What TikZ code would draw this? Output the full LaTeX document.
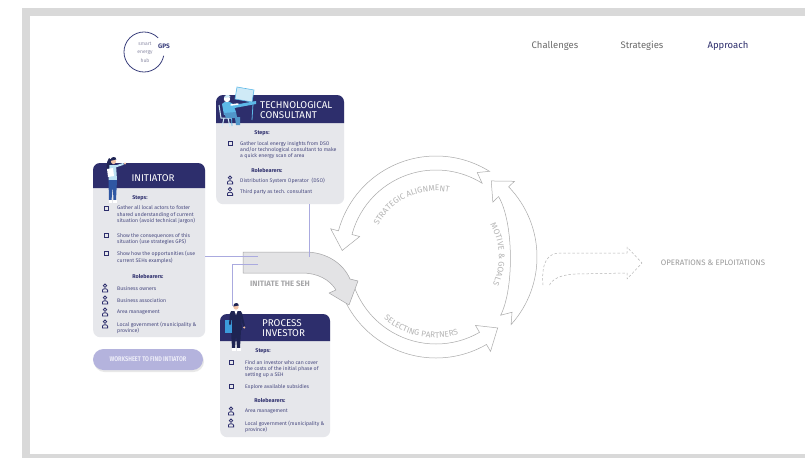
\documentclass[tikz,border=0pt]{standalone}
\usepackage{graphicx}
\usepackage{fontspec}
\setmainfont{Fira Sans}
\usetikzlibrary{decorations.text}

\definecolor{navy}{HTML}{2D2E6C}
\definecolor{cardgrey}{HTML}{E6E7EB}
\definecolor{inktext}{HTML}{484A80}
\definecolor{linkline}{HTML}{AAAADF}
\definecolor{framegrey}{HTML}{D9D9D9}
\definecolor{ringline}{HTML}{A9A9A9}
\definecolor{ringtext}{HTML}{B5B5B5}
\definecolor{navgrey}{HTML}{6B6B6B}
\definecolor{btnfill}{HTML}{B4B3DD}
\definecolor{btntext}{HTML}{EDEDF8}
\definecolor{sehfill}{HTML}{E3E3E5}
\definecolor{sehline}{HTML}{A4A4A6}
\definecolor{sehtext}{HTML}{A6A6A8}
\definecolor{skin}{HTML}{F2C3A7}
\definecolor{hair}{HTML}{1F2454}
\definecolor{shirtblue}{HTML}{BDE2F4}
\definecolor{jeans}{HTML}{2F57A3}
\definecolor{skyblue}{HTML}{5DB9E8}
\definecolor{paleblue}{HTML}{CFEAF7}
\definecolor{suit}{HTML}{1E2452}
\definecolor{folder}{HTML}{3C9BDB}
\definecolor{logoline}{HTML}{3A3F7C}
\definecolor{logotext}{HTML}{8C8CA6}

\newcommand\arcfont{\fontsize{8.2}{10}\selectfont\color{ringtext}}

\begin{document}
\begin{tikzpicture}[x=1pt,y=-1pt,
  cardbody/.style={fill=cardgrey, rounded corners=7pt, inner sep=0pt, anchor=north west},
  cardtitle/.style={text=white, font=\fontsize{9.8}{10}\selectfont, inner sep=0pt, align=left},
  subhead/.style={text=navy, font=\fontsize{5.4}{6}\selectfont\bfseries, inner sep=0pt},
  itemtext/.style={text=inktext, font=\fontsize{5.2}{6.4}\selectfont, inner sep=0pt, anchor=north west, align=left},
  navlink/.style={font=\fontsize{9.5}{11}\selectfont, text=navgrey, inner sep=0pt},
  link/.style={draw=linkline, line width=0.6pt},
  ring/.style={fill=white, draw=ringline, line width=0.5pt, line join=miter},
  ringlabel/.style={decorate, decoration={text along path, text align=center, text={#1}}},
  tickbox/.pic={\draw[navy, line width=0.85pt] (-2,-2) rectangle (2,2);},
  person/.pic={\draw[navy, line width=0.8pt] (0,-2.3) circle (1.7);
               \draw[navy, line width=0.8pt] (-2.6,3.9) -- (-2.6,2.3) .. controls (-2.6,0.2) and (2.6,0.2) .. (2.6,2.3) -- (2.6,3.9) -- cycle;}
]
\useasboundingbox (0,0) rectangle (805,458);

% page frame
\fill[framegrey] (22,8) rectangle (805,458);
\fill[white] (30,16) rectangle (805,454);

% logo
\draw[logoline, line width=0.8pt] (144,52) ++(-45:20) arc[start angle=-45, end angle=-349, radius=20];
\node[font=\fontsize{5}{6}\selectfont, text=logotext, inner sep=0pt] (logo1) at (145,43.5) {smart};
\node[font=\fontsize{5}{6}\selectfont, text=logotext, inner sep=0pt] (logo2) at (145,52.5) {energy};
\node[font=\fontsize{5}{6}\selectfont, text=logotext, inner sep=0pt] (logo3) at (145,61) {hub};
\node[font=\fontsize{6.5}{7}\selectfont\bfseries, text=logoline, inner sep=0pt] (gps) at (164,46) {GPS};

% navigation
\node[navlink] (nav1) at (555,46) {Challenges};
\node[navlink] (nav2) at (642,46) {Strategies};
\node[navlink, text=navy] (nav3) at (728,46) {Approach};

% cycle of three curved arrows
\begin{scope}[shift={(436,257)}]
  % motive & goals: a crescent, widest at its middle
  \path[ring] (42:101) arc[start angle=42, end angle=-44, radius=101]
    -- (-44:109) -- (-54:94) -- (-44:79) -- (-44:87)
    .. controls (78,-34) and (78,32) .. (42:87) -- (36:94) -- cycle;
  % strategic alignment and selecting partners
  \foreach \t/\b/\p in {-58/-165/-176, -200/-300/-311} {
    \path[ring] (\t:101) arc[start angle=\t, end angle=\b, radius=101]
      -- (\b:109) -- (\p:94) -- (\b:79) -- (\b:87)
      arc[start angle=\b, end angle=\t, radius=87] -- (\t-6:94) -- cycle;
  }
  \path[ringlabel={|\arcfont|STRATEGIC ALIGNMENT}] (-157:66) arc[start angle=-157, end angle=-73, radius=66];
  \path[ringlabel={|\arcfont|MOTIVE {\&} GOALS}] (-34:63) arc[start angle=-34, end angle=29, radius=63];
  \path[ringlabel={|\arcfont|SELECTING PARTNERS}] (-224:81) arc[start angle=-224, end angle=-292, radius=81];
\end{scope}

% dashed outgoing arrow
\draw[ringtext, line width=0.5pt, dash pattern=on 2.5pt off 2pt, line join=round]
  (543,285) .. controls (541,262) and (548,253) .. (560,253) -- (627,253) -- (627,247)
  -- (642,263) -- (627,279) -- (627,273) -- (575,274) .. controls (560,275) and (552,279) .. (549,286);
\node[font=\fontsize{7.9}{8}\selectfont, text=ringtext!85!black, inner sep=0pt] (ops) at (713,263) {OPERATIONS \& EPLOITATIONS};

% initiate arrow
\path[draw=sehline, fill=sehfill, line width=0.5pt, line join=round]
  (243,252) -- (305,252) .. controls (326,252) and (343,263) .. (350,279) -- (358,281)
  -- (349,305) -- (329,293) -- (336,290) .. controls (330,280) and (318,273) .. (302,273)
  -- (243,273) -- cycle;
\node[font=\fontsize{7.8}{8}\selectfont\bfseries, text=sehtext, inner sep=0pt] (sehlabel) at (280,284) {INITIATE THE SEH};
\coordinate (seh-top) at (309,257);
\coordinate (seh-mid) at (258,256);
\coordinate (seh-low) at (258,264);
\coordinate (invhead) at (232,306);

% technological consultant card
\node[cardbody, minimum width=128pt, minimum height=109pt] (tech) at (216,95) {};
\fill[navy] (216,123) [rounded corners=7pt] -- (216,95) -- (344,95) [sharp corners] -- (344,123) -- cycle;
\node[cardtitle, anchor=north west] (techtitle) at (260,101.7) {TECHNOLOGICAL\\CONSULTANT};
\node[subhead] (techsteps) at (262,133) {Steps:};
\pic at (230,143) {tickbox};
\node[itemtext] (techs1) at (240,140.8) {Gather local energy insights from DSO\\and/or technological consultant to make\\a quick energy scan of area};
\node[subhead] (techroles) at (267,170) {Rolebearers:};
\pic at (230,180) {person};
\node[itemtext] (techr1) at (240,177.8) {Distribution System Operator\ \ (DSO)};
\pic at (230,191.5) {person};
\node[itemtext] (techr2) at (240,189.3) {Third party as tech. consultant};

% initiator card
\node[cardbody, minimum width=112pt, minimum height=174pt] (init) at (93,163) {};
\fill[navy] (93,188) [rounded corners=7pt] -- (93,163) -- (205,163) [sharp corners] -- (205,188) -- cycle;
\node[cardtitle] (inittitle) at (153,178) {INITIATOR};
\node[subhead] (initsteps) at (140,198) {Steps:};
\pic at (106,208) {tickbox};
\node[itemtext] (inits1) at (117,205.8) {Gather all local actors to foster\\shared understanding of current\\situation (avoid technical jargon)};
\pic at (106,235.5) {tickbox};
\node[itemtext] (inits2) at (117,233.3) {Show the consequences of this\\situation (use strategies GPS)};
\pic at (106,253.5) {tickbox};
\node[itemtext] (inits3) at (117,251.3) {Show how the opportunities (use\\current SEHs examples)};
\node[subhead] (initroles) at (148,276) {Rolebearers:};
\pic at (105,288) {person};
\node[itemtext] (initr1) at (117,285.8) {Business owners};
\pic at (105,300) {person};
\node[itemtext] (initr2) at (117,297.8) {Business association};
\pic at (105,312) {person};
\node[itemtext] (initr3) at (117,309.8) {Area management};
\pic at (105,324) {person};
\node[itemtext] (initr4) at (117,321.8) {Local government (municipality \&\\province)};

% worksheet button
\fill[black!9, rounded corners=10.5pt] (94,351) rectangle (204,372);
\node[fill=btnfill, rounded corners=10.5pt, minimum width=110pt, minimum height=21pt, inner sep=0pt,
      text=btntext, font=\fontsize{6.8}{8}\selectfont\bfseries] (sheet) at (148,359.5)
      {\scalebox{0.82}[1]{WORKSHEET TO FIND INTIATOR}};

% process investor card
\node[cardbody, minimum width=110pt, minimum height=123pt] (inv) at (220,314) {};
\fill[navy] (220,341) [rounded corners=7pt] -- (220,314) -- (330,314) [sharp corners] -- (330,341) -- cycle;
\node[cardtitle, anchor=north west] (invtitle) at (262,319.7) {PROCESS\\INVESTOR};
\node[subhead] (invsteps) at (263,351) {Steps:};
\pic at (231,362) {tickbox};
\node[itemtext] (invs1) at (245,359.8) {Find an investor who can cover\\the costs of the initial phase of\\setting up a SEH};
\pic at (231,386) {tickbox};
\node[itemtext] (invs2) at (245,383.8) {Explore available subsidies};
\node[subhead] (invroles) at (270,400) {Rolebearers:};
\pic at (231,411) {person};
\node[itemtext] (invr1) at (245,408.8) {Area management};
\pic at (231,423) {person};
\node[itemtext] (invr2) at (245,420.8) {Local government (municipality \&\\province)};

% connectors into the initiate arrow
\draw[link] (tech.south -| seh-top) -- (seh-top);
\draw[link] (init.east |- seh-mid) -- (seh-mid);
\draw[link] (seh-low) -- (seh-low -| invhead) -- (invhead);

% figure: consultant at a desk
\fill[paleblue] (237,87) -- (254,90) -- (252,102) -- (235,99) -- cycle;
\draw[skyblue, line width=0.6pt] (237,87) -- (254,90) -- (252,102) -- (235,99) -- cycle;
\fill[skyblue] (228,106) -- (256,101) -- (256,104) -- (229,109) -- cycle;
\draw[skyblue, line width=0.8pt] (231,109) -- (232,126) (253,104) -- (252,120);
\draw[paleblue, line width=1pt] (219,105) -- (221,118) -- (231,118) (224,118) -- (222,127) (228,118) -- (230,127);
\fill[skyblue] (222,104) .. controls (224,101) and (230,101) .. (233,104) -- (236,112) -- (224,115) -- cycle;
\fill[white] (227,99) circle (3.2);
\fill[paleblue] (224,98) .. controls (224,94) and (230,94) .. (230.5,97) -- cycle;
\draw[white, line width=1.5pt, line cap=round] (231,105) -- (238,104);
\fill[skyblue!75!navy] (224,113) -- (236,112) -- (237,117) -- (240,117) -- (240,125) -- (236,125) -- (235,118) -- (226,118) -- cycle;

% figure: initiator
\fill[hair] (109,158) .. controls (106,162) and (106,170) .. (108,174) -- (112,172) -- (112,160) -- cycle;
\fill[skin] (113.5,161.5) circle (2.6);
\fill[hair] (110.5,160.5) .. controls (110.5,156) and (116.5,156) .. (116.3,159.5) -- (112,160.5) -- cycle;
\fill[shirtblue] (109.5,165) -- (116,165) -- (117,180) -- (108.5,180) -- cycle;
\draw[shirtblue, line width=2pt, line cap=round] (115.5,166.5) -- (123,164);
\fill[skin] (125,163.5) circle (1.2);
\fill[white] (107,169) -- (113,168) -- (114,176) -- (108,177) -- cycle;
\fill[jeans] (108.5,180) -- (117,180) -- (116,200) -- (113.5,200) -- (112.8,186) -- (111.5,200) -- (109,200) -- cycle;
\fill[white] (108.5,200) rectangle (112,202.5);
\fill[white] (113,200) rectangle (116.5,202.5);

% figure: investor
\fill[skin] (236,307) circle (2.6);
\fill[hair] (233.3,306.5) .. controls (233,302) and (239,302) .. (238.8,305.5) -- cycle;
\fill[suit] (231,311) -- (241,311) -- (242,330) -- (230,330) -- cycle;
\fill[white] (234.5,311) -- (237.5,311) -- (236,315) -- cycle;
\fill[suit] (231,330) -- (241,330) -- (240,348) -- (237,348) -- (236,335) -- (235,348) -- (232,348) -- cycle;
\fill[white] (231.5,348) rectangle (235.5,351);
\fill[white] (236.5,348) rectangle (240.5,351);
\draw[suit, line width=2pt, line cap=round] (241,313) -- (244,326);
\fill[skin] (244.3,327.5) circle (1.1);
\fill[folder] (225,320) rectangle (232,333);
\draw[suit, line width=2pt, line cap=round] (231,313) -- (230,324);
\end{tikzpicture}
\end{document}
